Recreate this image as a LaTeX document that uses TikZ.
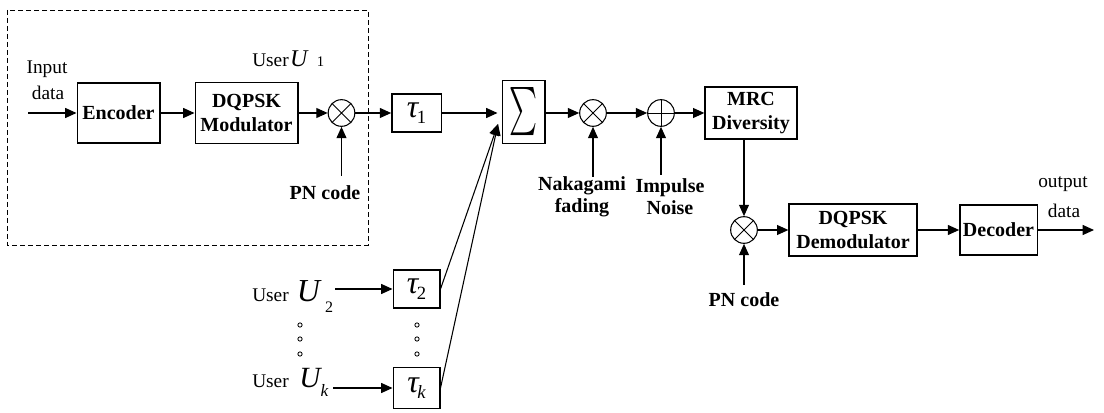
\documentclass[tikz,border=0pt]{standalone}
\usepackage{graphicx}
\usepackage{fontspec}
\setmainfont{Liberation Serif}
\usetikzlibrary{arrows.meta,calc}
\newcommand{\tauname}[1]{{\fontsize{24}{24}\selectfont\itshape τ}\hspace{-1pt}\raisebox{-4pt}{\fontsize{14}{14}\selectfont #1}}
\begin{document}
\begin{tikzpicture}[x=0.75pt,y=-0.75pt,
  lbl/.style={font=\fontsize{14.5}{17}\selectfont, inner sep=0pt},
  blbl/.style={font=\bfseries\fontsize{15}{16.5}\selectfont, align=center, inner sep=0pt},
  blk/.style={draw, line width=1pt, inner sep=0pt, align=center, font=\bfseries\fontsize{15}{18}\selectfont},
  tbox/.style={draw, line width=1pt, inner sep=0pt},
  mul/.style={circle, draw, line width=0.8pt, minimum size=20pt, inner sep=0pt,
    path picture={\draw[line width=0.7pt] (path picture bounding box.north west) -- (path picture bounding box.south east)
      (path picture bounding box.north east) -- (path picture bounding box.south west);}},
  addc/.style={circle, draw, line width=0.8pt, minimum size=20pt, inner sep=0pt,
    path picture={\draw[line width=0.7pt] (path picture bounding box.north) -- (path picture bounding box.south)
      (path picture bounding box.west) -- (path picture bounding box.east);}},
  arr/.style={-{Triangle[length=8.5pt,width=7.5pt]}, line width=0.8pt},
  dbox/.style={line width=0.6pt, dash pattern=on 3.5pt off 2.5pt},
  dot/.style={line width=0.6pt}
]
\useasboundingbox (0,0) rectangle (1104,413);

% dashed user-1 frame
\draw[dbox] (7,10) rectangle (368,245);

% blocks
\node[blk, minimum width=62pt, minimum height=45pt] (enc) at (118.5,113) {Encoder};
\node[blk, minimum width=77pt, minimum height=46pt] (mod) at (246.5,113) {DQPSK\\Modulator};
\node[mul] (m1) at (341.5,113) {};
\node[tbox, minimum width=37pt, minimum height=28.5pt] (t1) at (416.5,113) {\tauname{1}};
\node[blk, minimum width=32pt, minimum height=47pt] (sig) at (523.5,112) {\resizebox{21pt}{31pt}{$\sum$}};
\node[mul] (m2) at (593,113) {};
\node[addc] (a1) at (661,113) {};
\node[blk, minimum width=69pt, minimum height=39pt] (mrc) at (751,113) {MRC\\Diversity};
\node[mul] (m3) at (744,230) {};
\node[blk, minimum width=96pt, minimum height=39pt] (dem) at (853,230) {DQPSK\\Demodulator};
\node[blk, minimum width=58pt, minimum height=37.5pt] (dec) at (998.5,230) {Decoder};
\node[tbox, minimum width=35pt, minimum height=28.5pt] (t2) at (416.5,289) {\tauname{2}};
\node[tbox, minimum width=35pt, minimum height=31pt] (tk) at (416.5,388) {\tauname{\itshape k}};

% labels
\node[lbl, anchor=base] (inp) at (47,74) {Input};
\node[lbl, anchor=base] (indata) at (48,100) {data};
\node[lbl, anchor=base] (outp) at (1063,188) {output};
\node[lbl, anchor=base] (outdata) at (1064,218) {data};
\node[lbl, anchor=base west] (u1) at (252,67) {User\hspace{1pt}{\fontsize{18}{18}\selectfont\itshape U}\hspace{7pt}{\fontsize{11}{11}\selectfont 1}};
\node[lbl, anchor=base west] (u2) at (252,302) {User\hspace{6pt}{\fontsize{24}{24}\selectfont\itshape U}\hspace{4pt}\raisebox{-8pt}{\fontsize{12}{12}\selectfont 2}};
\node[lbl, anchor=base west] (uk) at (252,388) {User\hspace{8pt}{\fontsize{22}{22}\selectfont\itshape U}\raisebox{-6pt}{\fontsize{13}{13}\selectfont\itshape k}};
\node[blbl] (pn1) at (325,193) {PN code};
\node[blbl] (nak) at (582,197) {Nakagami\\fading};
\node[blbl] (imp) at (670,197) {Impulse\\Noise};
\node[blbl] (pn2) at (744,300) {PN code};

% free ends
\coordinate (in) at (28,113);
\coordinate (out) at (1094,230);
\coordinate (conv) at (498,124);
\coordinate (pn1s) at (341.5,176);
\coordinate (naks) at (593,177);
\coordinate (imps) at (661,175);
\coordinate (pn2s) at (744,285);
\coordinate (u2e) at (335,289);
\coordinate (uke) at (333,388);

% connectors
\draw[arr] (in) -- (enc);
\draw[arr] (enc) -- (mod);
\draw[arr] (mod) -- (m1);
\draw[arr] (m1) -- (t1);
\draw[arr, shorten >=3pt] (t1) -- (t1 -| sig.west);
\draw[arr] (t2.east) -- (conv);
\draw[arr] (tk.east) -- (conv);
\draw[arr] (sig.east |- m2) -- (m2);
\draw[arr] (m2) -- (a1);
\draw[arr] (a1) -- (mrc);
\draw[arr] (mrc.south -| m3) -- (m3.north);
\draw[arr] (m3) -- (dem);
\draw[arr] (dem) -- (dec);
\draw[arr] (dec) -- (out);
\draw[arr] (pn1s) -- (m1.south);
\draw[arr] (naks) -- (m2.south);
\draw[arr] (imps) -- (a1.south);
\draw[arr] (pn2s) -- (m3.south);
\draw[arr] (u2e) -- (t2);
\draw[arr] (uke) -- (tk);

% ellipsis dots
\foreach \yy in {325,339,354} {
  \draw[dot] (300,\yy) circle (1.6pt);
  \draw[dot] (417,\yy) circle (1.6pt);
}
\end{tikzpicture}
\end{document}
